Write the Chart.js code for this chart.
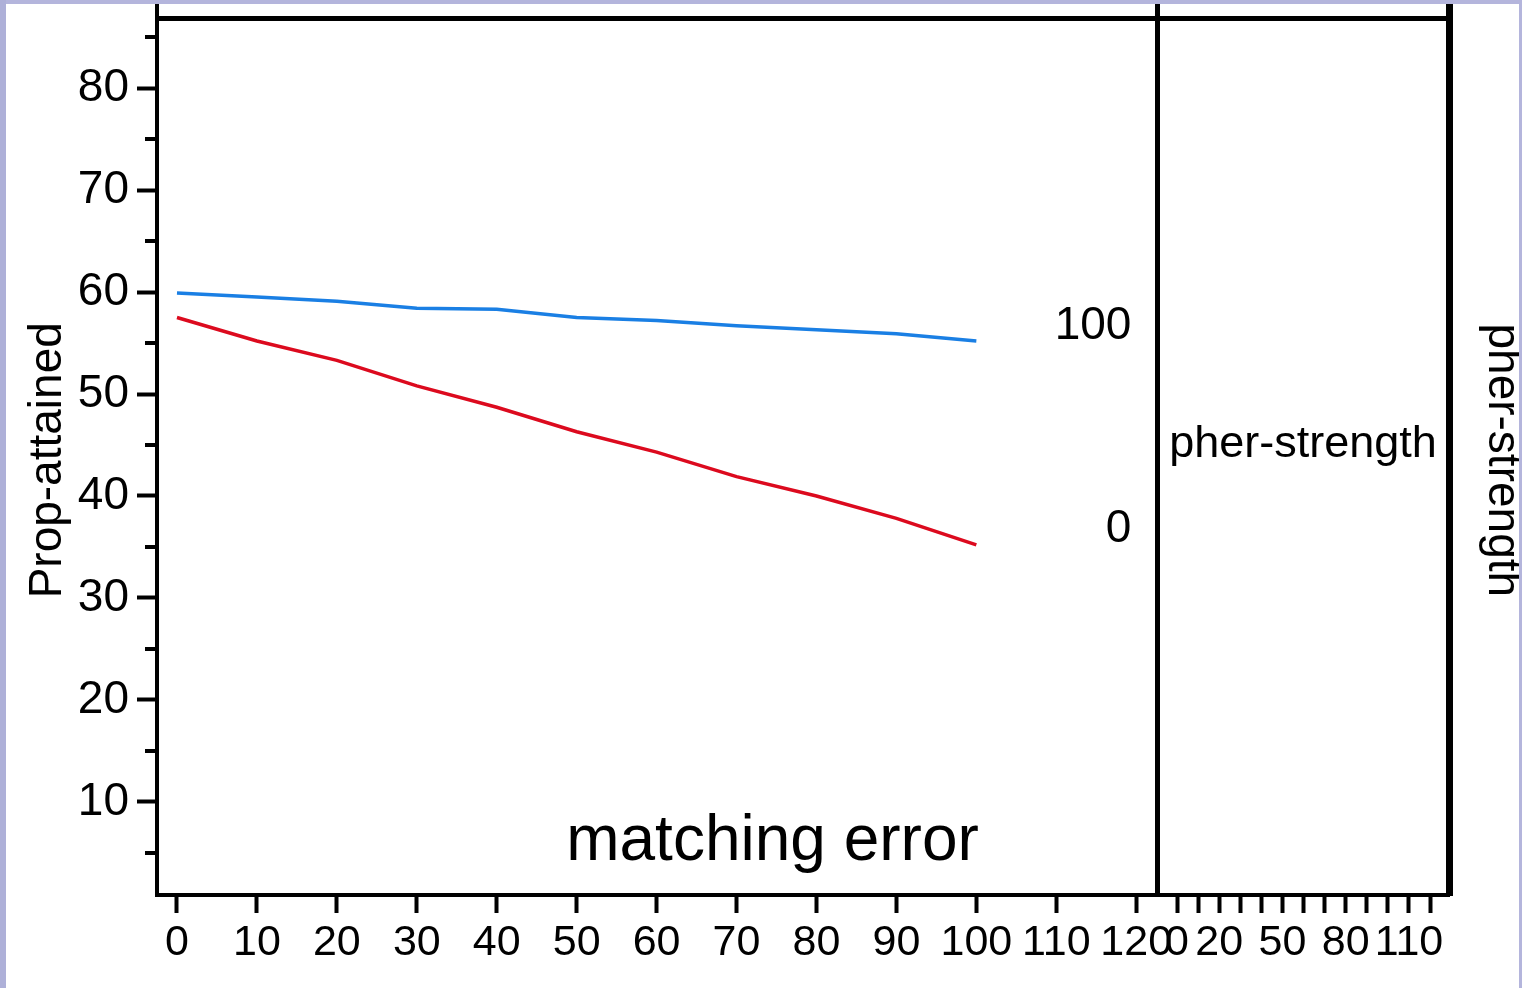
<!DOCTYPE html>
<html>
<head>
<meta charset="utf-8">
<script src="https://cdn.jsdelivr.net/npm/chart.js@4.4.1/dist/chart.umd.min.js"></script>
<style>
html, body { margin: 0; padding: 0; background: #ffffff; }
#wrap { position: relative; width: 1522px; height: 988px; overflow: hidden; background: #ffffff; }
#c { position: absolute; left: 0; top: 0; }
.band { position: absolute; background: #b4b5dc; pointer-events: none; }
</style>
</head>
<body>
<div id="wrap">
  <canvas id="c" width="1522" height="988"></canvas>
  <div class="band" style="left:0;top:0;width:1522px;height:4px"></div>
  <div class="band" style="left:0;top:0;width:6px;height:988px;background:#aeb0d8"></div>
  <div class="band" style="left:1519px;top:0;width:3px;height:988px"></div>
</div>
<script>
// ---- data ----
const matchingError = [0, 10, 20, 30, 40, 50, 60, 70, 80, 90, 100];
const propAttainedPher100 = [59.9, 59.5, 59.1, 58.4, 58.3, 57.5, 57.2, 56.7, 56.3, 55.9, 55.2];
const propAttainedPher0   = [57.5, 55.2, 53.3, 50.8, 48.7, 46.3, 44.3, 41.9, 40.0, 37.8, 35.2];

const yTicks       = [10, 20, 30, 40, 50, 60, 70, 80];
const yMinorTicks  = [5, 15, 25, 35, 45, 55, 65, 75, 85];
const xTicks       = [0, 10, 20, 30, 40, 50, 60, 70, 80, 90, 100, 110, 120];
const pherTicks    = [0, 10, 20, 30, 40, 50, 60, 70, 80, 90, 100, 110, 120];
const pherTickLabels = [0, 20, 50, 80, 110];
const seriesKeyTicks = [0, 100];   // pher-strength values labelling the two lines

const FONT = "'Liberation Sans', Arial, Helvetica, sans-serif";

const X_MIN = -2.5, X_MAX = 122.6;
const Y_MIN = 0.88, Y_MAX = 88.63;

const toPoints = (xs, ys) => xs.map((x, i) => ({ x: x, y: ys[i] }));
const noPad = s => { s.paddingTop = 0; s.paddingBottom = 0; s.paddingLeft = 0; s.paddingRight = 0; };

const extras = {
  id: 'extras',
  afterDraw(chart) {
    const ctx = chart.ctx;
    const y = chart.scales.y, x = chart.scales.x, x2 = chart.scales.x2;
    ctx.save();
    // minor ticks on the left axis
    ctx.strokeStyle = '#000';
    ctx.lineWidth = 4;
    yMinorTicks.forEach(v => {
      const py = Math.round(y.getPixelForValue(v));
      ctx.beginPath();
      ctx.moveTo(y.right - 12, py);
      ctx.lineTo(y.right, py);
      ctx.stroke();
    });
    // in-plot texts
    ctx.fillStyle = '#000';
    ctx.textAlign = 'center';
    ctx.textBaseline = 'alphabetic';
    ctx.font = '64px ' + FONT;
    ctx.fillText('matching error', x.getPixelForValue(74.5), y.getPixelForValue(4.3));
    ctx.font = '45px ' + FONT;
    ctx.fillText('pher-strength', (x2.left + x2.right) / 2, y.getPixelForValue(43.8));
    ctx.restore();
  }
};

new Chart(document.getElementById('c'), {
  type: 'line',
  data: {
    datasets: [
      {
        label: 'pher-strength 100',
        data: toPoints(matchingError, propAttainedPher100),
        borderColor: '#1a7fe4',
        borderWidth: 3.5,
        pointRadius: 0,
        tension: 0,
        xAxisID: 'x',
        yAxisID: 'y'
      },
      {
        label: 'pher-strength 0',
        data: toPoints(matchingError, propAttainedPher0),
        borderColor: '#dc0a1e',
        borderWidth: 3.5,
        pointRadius: 0,
        tension: 0,
        xAxisID: 'x',
        yAxisID: 'y'
      }
    ]
  },
  options: {
    responsive: false,
    animation: false,
    devicePixelRatio: 1,
    layout: { padding: 0 },
    plugins: { legend: { display: false }, tooltip: { enabled: false } },
    scales: {
      x: {
        type: 'linear', position: 'bottom', stack: 'bottomStack', stackWeight: 1000,
        min: X_MIN, max: X_MAX,
        afterBuildTicks: s => { s.ticks = xTicks.map(v => ({ value: v })); },
        afterFit: s => { s.height = 93; noPad(s); },
        grid: { display: true, drawOnChartArea: false, drawTicks: true, tickLength: 18, tickWidth: 4, tickColor: '#000' },
        border: { display: true, width: 4, color: '#000' },
        ticks: { autoSkip: false, maxRotation: 0, minRotation: 0, padding: 4, color: '#000',
                 font: { family: FONT, size: 43 }, callback: v => String(v) }
      },
      x2: {
        type: 'linear', axis: 'x', position: 'bottom', stack: 'bottomStack', stackWeight: 292,
        min: -9.5, max: 129.0,
        afterBuildTicks: s => { s.ticks = pherTicks.map(v => ({ value: v })); },
        afterFit: s => { s.height = 93; noPad(s); },
        grid: { display: true, drawOnChartArea: false, drawTicks: true, tickLength: 18, tickWidth: 4, tickColor: '#000' },
        border: { display: true, width: 4, color: '#000' },
        ticks: { autoSkip: false, maxRotation: 0, minRotation: 0, padding: 4, color: '#000',
                 font: { family: FONT, size: 43 },
                 callback: v => pherTickLabels.includes(v) ? String(v) : '' }
      },
      xTop: {
        type: 'linear', axis: 'x', position: { y: 86.86 },
        min: X_MIN, max: X_MAX,
        afterFit: noPad,
        grid: { display: false, drawTicks: false },
        ticks: { display: false },
        border: { display: true, width: 5, color: '#000' }
      },
      y: {
        type: 'linear', position: 'left', min: Y_MIN, max: Y_MAX,
        afterBuildTicks: s => { s.ticks = yTicks.map(v => ({ value: v })); },
        afterFit: s => { s.width = 157; noPad(s); },
        grid: { display: true, drawOnChartArea: false, drawTicks: true, tickLength: 20, tickWidth: 4, tickColor: '#000' },
        border: { display: true, width: 4, color: '#000' },
        ticks: { padding: 8, color: '#000', font: { family: FONT, size: 46 } },
        title: { display: true, text: 'Prop-attained  ', color: '#000',
                 font: { family: FONT, size: 46, lineHeight: 1 }, padding: { top: 25, bottom: 0 } }
      },
      y2: {
        type: 'linear', axis: 'y', position: { x: X_MAX },
        min: -180.3, max: 260.6,
        afterBuildTicks: s => { s.ticks = seriesKeyTicks.map(v => ({ value: v })); },
        afterFit: noPad,
        grid: { display: false, drawTicks: false },
        border: { display: true, width: 5, color: '#000' },
        ticks: { padding: 27, color: '#000', font: { family: FONT, size: 46 },
                 callback: v => String(v) + '  ' }
      },
      yR: {
        type: 'linear', position: 'right', min: Y_MIN, max: Y_MAX,
        afterFit: s => { s.width = 73; noPad(s); },
        grid: { display: false, drawTicks: false },
        ticks: { display: false },
        border: { display: true, width: 7, color: '#000' },
        title: { display: true, text: '  pher-strength', color: '#000',
                 font: { family: FONT, size: 46, lineHeight: 0.87 }, padding: { top: 0, bottom: 0 } }
      }
    }
  },
  plugins: [extras]
});
</script>
</body>
</html>
